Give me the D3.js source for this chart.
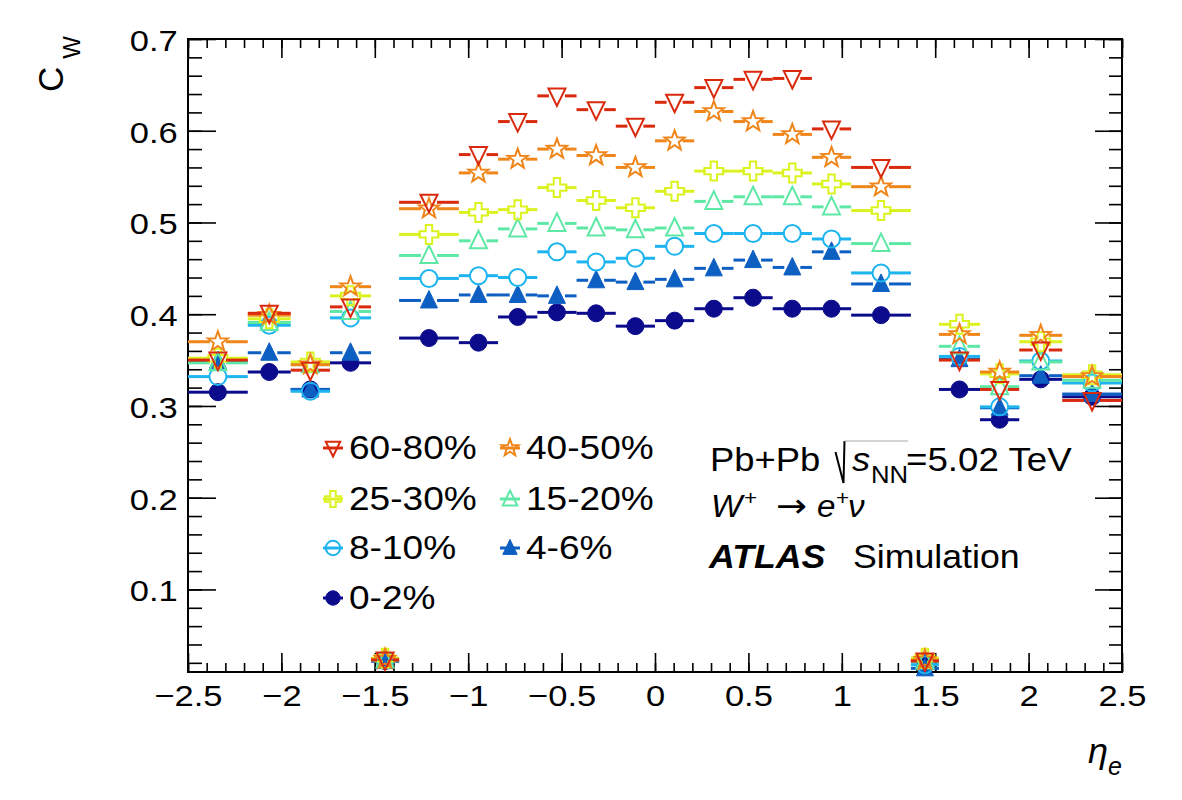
<!DOCTYPE html>
<html><head><meta charset="utf-8">
<script src="https://cdn.jsdelivr.net/npm/d3@7"></script>
<style>
body{margin:0;background:#fff}
text{font-family:"Liberation Sans",Arial,Helvetica,sans-serif;fill:#000}
</style>
</head><body>
<svg id="c" width="1182" height="800"></svg>
<script>
// ---------------- data ----------------
const etaEdges = [-2.5,-2.18,-1.95,-1.74,-1.52,-1.37,-1.05,-0.84,-0.63,-0.42,-0.21,0,0.21,0.42,0.63,0.84,1.05,1.37,1.52,1.74,1.95,2.18,2.5];
const cw_0_2   = [0.315,0.337,0.318,0.347,0.022,0.374,0.369,0.397,0.402,0.401,0.387,0.393,0.406,0.418,0.406,0.406,0.399,0.022,0.318,0.285,0.329,0.310];
const cw_4_6   = [0.349,0.358,0.318,0.358,0.022,0.415,0.421,0.421,0.420,0.437,0.435,0.438,0.450,0.459,0.451,0.468,0.433,0.014,0.351,0.298,0.333,0.313];
const cw_8_10  = [0.332,0.388,0.316,0.396,0.023,0.439,0.442,0.440,0.468,0.457,0.461,0.474,0.488,0.488,0.488,0.482,0.445,0.018,0.354,0.299,0.349,0.325];
const cw_15_20 = [0.347,0.391,0.345,0.403,0.023,0.464,0.480,0.493,0.499,0.494,0.492,0.494,0.523,0.528,0.528,0.517,0.477,0.022,0.365,0.321,0.348,0.328];
const cw_25_30 = [0.352,0.395,0.348,0.420,0.025,0.487,0.511,0.514,0.538,0.524,0.516,0.534,0.556,0.556,0.554,0.542,0.513,0.025,0.389,0.335,0.370,0.334];
const cw_40_50 = [0.370,0.399,0.345,0.430,0.024,0.515,0.554,0.569,0.580,0.573,0.560,0.589,0.621,0.610,0.596,0.571,0.539,0.023,0.378,0.337,0.377,0.332];
const cw_60_80 = [0.350,0.401,0.339,0.408,0.023,0.522,0.574,0.610,0.638,0.623,0.605,0.631,0.647,0.656,0.657,0.602,0.560,0.022,0.350,0.318,0.361,0.306];
const statErr = 0.012;

const centralityLabels = ["0-2%","4-6%","8-10%","15-20%","25-30%","40-50%","60-80%"];
const seriesColors = ["#0b0b8c","#0d5fc2","#1db4ef","#5ee8a6","#dcf21f","#f0861a","#da2a0e"];
const seriesMarkers = ["circleFull","triUpFull","circleOpen","triUpOpen","crossOpen","starOpen","triDownOpen"];
const seriesValues = [cw_0_2,cw_4_6,cw_8_10,cw_15_20,cw_25_30,cw_40_50,cw_60_80];

const xTickValues = [-2.5,-2,-1.5,-1,-0.5,0,0.5,1,1.5,2,2.5];
const xTickLabels = ["\u22122.5","\u22122","\u22121.5","\u22121","\u22120.5","0","0.5","1","1.5","2","2.5"];
const xMinorTicks = d3.range(-25,26).map(i => i/10);
const yTickValues = [0.1,0.2,0.3,0.4,0.5,0.6,0.7];
const yTickLabels = ["0.1","0.2","0.3","0.4","0.5","0.6","0.7"];
const yMinorTicks = d3.range(1,36).map(i => +(i*0.02).toFixed(2));

// legend order (row-major, two columns)
const legendOrder = ["60-80%","40-50%","25-30%","15-20%","8-10%","4-6%","0-2%"];

// ---------------- chart ----------------
const svg = d3.select("#c");
const x = d3.scaleLinear().domain([-2.5,2.5]).range([188,1122]);
const y = d3.scaleLinear().domain([0.01,0.7]).range([672,39]);
const X0 = x.range()[0], X1 = x.range()[1], Y0 = y.range()[0], Y1 = y.range()[1];

function styleAxis(g, fs, sx){
  g.select(".domain").remove();
  g.attr("font-family",null).attr("font-size",null);
  g.selectAll(".tick line").attr("stroke","#000").attr("stroke-width",1.6);
  g.selectAll(".tick text").attr("font-size",fs).attr("fill","#000")
    .attr("transform",`scale(${sx},1)`);
}
const fmtX = d => xTickLabels[xTickValues.indexOf(d)];
const fmtY = d => yTickLabels[yTickValues.indexOf(d)];

// bottom
svg.append("g").attr("transform",`translate(0,${Y0})`)
  .call(d3.axisBottom(x).tickValues(xMinorTicks).tickSize(-9).tickFormat(""))
  .call(g=>styleAxis(g,30,1));
svg.append("g").attr("transform",`translate(0,${Y0})`)
  .call(d3.axisBottom(x).tickValues(xTickValues).tickSize(-19).tickPadding(13).tickFormat(fmtX))
  .call(g=>styleAxis(g,30,1.15));
// top
svg.append("g").attr("transform",`translate(0,${Y1})`)
  .call(d3.axisTop(x).tickValues(xMinorTicks).tickSize(-9).tickFormat(""))
  .call(g=>styleAxis(g,30,1));
svg.append("g").attr("transform",`translate(0,${Y1})`)
  .call(d3.axisTop(x).tickValues(xTickValues).tickSize(-19).tickFormat(""))
  .call(g=>styleAxis(g,30,1));
// left
svg.append("g").attr("transform",`translate(${X0},0)`)
  .call(d3.axisLeft(y).tickValues(yMinorTicks).tickSize(-14).tickFormat(""))
  .call(g=>styleAxis(g,30,1));
svg.append("g").attr("transform",`translate(${X0},0)`)
  .call(d3.axisLeft(y).tickValues(yTickValues).tickSize(-28).tickPadding(9).tickFormat(fmtY))
  .call(g=>styleAxis(g,30,1.15))
  .call(g=>g.selectAll(".tick text").attr("dy","0.38em"));
// right
svg.append("g").attr("transform",`translate(${X1},0)`)
  .call(d3.axisRight(y).tickValues(yMinorTicks).tickSize(-13).tickFormat(""))
  .call(g=>styleAxis(g,30,1));
svg.append("g").attr("transform",`translate(${X1},0)`)
  .call(d3.axisRight(y).tickValues(yTickValues).tickSize(-27).tickFormat(""))
  .call(g=>styleAxis(g,30,1));

// frame
svg.append("rect").attr("x",X0).attr("y",Y1).attr("width",X1-X0).attr("height",Y0-Y1)
  .attr("fill","none").attr("stroke","#000").attr("stroke-width",2);

// marker shapes
function markerPath(type, s){
  const t = type.replace(/Full|Open/,"");
  if(t==="circle"){const r=8.5*s;return `M${r},0A${r},${r} 0 1 1 ${-r},0A${r},${r} 0 1 1 ${r},0Z`;}
  if(t==="triUp") return `M0,${-10*s}L${8.5*s},${7.5*s}L${-8.5*s},${7.5*s}Z`;
  if(t==="triDown") return `M0,${10*s}L${8.5*s},${-7.5*s}L${-8.5*s},${-7.5*s}Z`;
  if(t==="star"){
    const pts=[];for(let i=0;i<10;i++){const a=-Math.PI/2+i*Math.PI/5;const r=(i%2?4.3:10.5)*s;pts.push([r*Math.cos(a),r*Math.sin(a)]);}
    return "M"+pts.map(p=>p[0].toFixed(2)+","+p[1].toFixed(2)).join("L")+"Z";
  }
  if(t==="cross"){
    const a=3.2*s,L=9.5*s;
    return `M${-a},${-L}L${a},${-L}L${a},${-a}L${L},${-a}L${L},${a}L${a},${a}L${a},${L}L${-a},${L}L${-a},${a}L${-L},${a}L${-L},${-a}L${-a},${-a}Z`;
  }
}
const isFull = m => m.endsWith("Full");

// data layers (drawn 0-2% first, 60-80% last)
const gap = 8;
seriesValues.forEach((vals,si)=>{
  const col = seriesColors[si], mk = seriesMarkers[si];
  const g = svg.append("g").attr("class","series");
  const pts = vals.map((v,i)=>({x0:etaEdges[i],x1:etaEdges[i+1],xc:(etaEdges[i]+etaEdges[i+1])/2,v}));
  g.selectAll(".hl").data(pts).join("line")
    .attr("x1",d=>x(d.x0)).attr("x2",d=>Math.max(x(d.x0),x(d.xc)-gap))
    .attr("y1",d=>y(d.v)).attr("y2",d=>y(d.v))
    .attr("stroke",col).attr("stroke-width",3);
  g.selectAll(".hr").data(pts).join("line")
    .attr("x1",d=>Math.min(x(d.x1),x(d.xc)+gap)).attr("x2",d=>x(d.x1))
    .attr("y1",d=>y(d.v)).attr("y2",d=>y(d.v))
    .attr("stroke",col).attr("stroke-width",3);
  g.selectAll(".vu").data(pts).join("line")
    .attr("x1",d=>x(d.xc)).attr("x2",d=>x(d.xc))
    .attr("y1",d=>Math.min(y(d.v)-gap,y(d.v+statErr))).attr("y2",d=>y(d.v+statErr))
    .attr("stroke",col).attr("stroke-width",3);
  g.selectAll(".vd").data(pts).join("line")
    .attr("x1",d=>x(d.xc)).attr("x2",d=>x(d.xc))
    .attr("y1",d=>Math.max(y(d.v)+gap,y(d.v-statErr))).attr("y2",d=>y(d.v-statErr))
    .attr("stroke",col).attr("stroke-width",3);
  g.selectAll(".mk").data(pts).join("path")
    .attr("transform",d=>`translate(${x(d.xc)},${y(d.v)})`)
    .attr("d",markerPath(mk,1))
    .attr("fill",isFull(mk)?col:"none")
    .attr("stroke",col).attr("stroke-width",isFull(mk)?1:2);
});

// ---------------- legend ----------------
const legCols = [333,510], legRows = [448,499,548,598];
const leg = svg.append("g");
legendOrder.forEach((lab,k)=>{
  const si = centralityLabels.indexOf(lab);
  const cx = legCols[k%2], cy = legRows[Math.floor(k/2)];
  const col = seriesColors[si], mk = seriesMarkers[si];
  leg.append("line").attr("x1",cx-10).attr("x2",cx+10).attr("y1",cy).attr("y2",cy)
    .attr("stroke",col).attr("stroke-width",3);
  leg.append("path").attr("transform",`translate(${cx},${cy})`).attr("d",markerPath(mk,0.85))
    .attr("fill",isFull(mk)?col:"none").attr("stroke",col).attr("stroke-width",isFull(mk)?1:2);
  leg.append("text").attr("transform",`translate(${cx+16},${cy+11}) scale(1.09,1)`)
    .attr("font-size",34).text(lab);
});

// ---------------- annotation text ----------------
const ann = svg.append("g");
ann.append("text").attr("transform","translate(710,471) scale(1.07,1)").attr("font-size",34).text("Pb+Pb");
ann.append("path").attr("d","M835.5,452L843.5,483L844.5,441").attr("fill","none").attr("stroke","#000").attr("stroke-width",2);
ann.append("line").attr("x1",844.5).attr("x2",908).attr("y1",441).attr("y2",441).attr("stroke","#aaa").attr("stroke-width",1);
ann.append("text").attr("transform","translate(852,471) scale(1.07,1)").attr("font-size",34).attr("font-style","italic").text("s");
ann.append("text").attr("transform","translate(871,483) scale(1.07,1)").attr("font-size",24).text("NN");
ann.append("text").attr("transform","translate(906,471) scale(1.08,1)").attr("font-size",34).text("=5.02 TeV");

ann.append("text").attr("transform","translate(711,517) scale(1.07,1)").attr("font-size",31).attr("font-style","italic").text("W");
ann.append("text").attr("transform","translate(744,505) scale(1.07,1)").attr("font-size",21).text("+");
ann.append("text").attr("transform","translate(776,517) scale(1.12,1)").attr("font-size",33)
  .style("font-family","'DejaVu Sans',sans-serif").text("\u2192");
ann.append("text").attr("transform","translate(817,517) scale(1.07,1)").attr("font-size",31).attr("font-style","italic").text("e");
ann.append("text").attr("transform","translate(836,505) scale(1.07,1)").attr("font-size",21).text("+");
ann.append("text").attr("transform","translate(848,517) scale(1.07,1)").attr("font-size",31).attr("font-style","italic").text("\u03bd");

ann.append("text").attr("transform","translate(709,568) scale(1.05,1)").attr("font-size",34)
  .attr("font-weight","bold").attr("font-style","italic").text("ATLAS");
ann.append("text").attr("transform","translate(853,568) scale(1.05,1)").attr("font-size",34).text("Simulation");

// axis titles
const yt = svg.append("text").attr("transform","translate(63,92) rotate(-90)").attr("font-size",35);
yt.append("tspan").text("C");
yt.append("tspan").attr("font-size",24).attr("dy",17).attr("dx",8).text("W");

const xt = svg.append("text").attr("transform","translate(1122,763)").attr("text-anchor","end").attr("font-size",36).attr("font-style","italic");
xt.append("tspan").text("\u03b7");
xt.append("tspan").attr("font-size",25).attr("dy",12).text("e");
</script>
</body></html>
